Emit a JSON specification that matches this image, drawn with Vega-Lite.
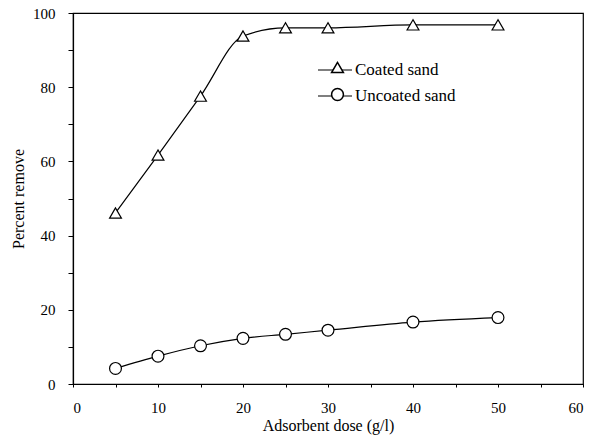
{
  "$schema": "https://vega.github.io/schema/vega-lite/v6.json",
  "width": 510,
  "height": 371,
  "autosize": {"type": "none"},
  "padding": {"left": 73, "top": 13, "right": 9, "bottom": 54},
  "background": "white",
  "config": {
    "view": {"stroke": "black", "strokeWidth": 1.2},
    "font": "Liberation Serif",
    "axis": {
      "grid": false,
      "domainColor": "black",
      "domainWidth": 1.2,
      "tickColor": "black",
      "labelColor": "black",
      "titleColor": "black",
      "labelFont": "Liberation Serif",
      "titleFont": "Liberation Serif",
      "labelFontSize": 15,
      "titleFontSize": 16,
      "titleFontWeight": "normal"
    },
    "legend": {
      "labelFont": "Liberation Serif",
      "labelFontSize": 17,
      "labelColor": "black"
    }
  },
  "data": {
    "values": [
      {"dose": 5, "removal": 46.1, "series": "Coated sand"},
      {"dose": 10, "removal": 61.7, "series": "Coated sand"},
      {"dose": 15, "removal": 77.6, "series": "Coated sand"},
      {"dose": 20, "removal": 93.8, "series": "Coated sand"},
      {"dose": 25, "removal": 96.0, "series": "Coated sand"},
      {"dose": 30, "removal": 96.0, "series": "Coated sand"},
      {"dose": 40, "removal": 96.8, "series": "Coated sand"},
      {"dose": 50, "removal": 96.8, "series": "Coated sand"},
      {"dose": 5, "removal": 4.2, "series": "Uncoated sand"},
      {"dose": 10, "removal": 7.5, "series": "Uncoated sand"},
      {"dose": 15, "removal": 10.3, "series": "Uncoated sand"},
      {"dose": 20, "removal": 12.3, "series": "Uncoated sand"},
      {"dose": 25, "removal": 13.4, "series": "Uncoated sand"},
      {"dose": 30, "removal": 14.5, "series": "Uncoated sand"},
      {"dose": 40, "removal": 16.7, "series": "Uncoated sand"},
      {"dose": 50, "removal": 17.9, "series": "Uncoated sand"}
    ]
  },
  "encoding": {
    "x": {
      "field": "dose",
      "type": "quantitative",
      "scale": {"domain": [0, 60], "nice": false},
      "axis": {
        "title": "Adsorbent dose (g/l)",
        "values": [0, 5, 10, 15, 20, 25, 30, 35, 40, 45, 50, 55, 60],
        "labelExpr": "datum.value % 10 === 0 ? datum.label : ''",
        "tickSize": 3,
        "labelPadding": 13,
        "titlePadding": 2
      }
    },
    "y": {
      "field": "removal",
      "type": "quantitative",
      "scale": {"domain": [0, 100], "nice": false},
      "axis": {
        "title": "Percent remove",
        "values": [0, 10, 20, 30, 40, 50, 60, 70, 80, 90, 100],
        "labelExpr": "datum.value % 20 === 0 ? datum.label : ''",
        "tickSize": 5,
        "labelPadding": 13,
        "titlePadding": 6
      }
    }
  },
  "layer": [
    {
      "mark": {"type": "line", "interpolate": "monotone", "strokeWidth": 1.2},
      "encoding": {
        "color": {
          "field": "series",
          "type": "nominal",
          "scale": {"domain": ["Coated sand", "Uncoated sand"], "range": ["black", "black"]},
          "legend": {
            "title": null,
            "orient": "none",
            "legendX": 244,
            "legendY": 39,
            "padding": 0,
            "symbolType": "stroke",
            "symbolSize": 1156,
            "symbolStrokeWidth": 1.2,
            "labelOffset": 2,
            "rowPadding": 0
          }
        }
      }
    },
    {
      "mark": {"type": "point", "filled": true, "fill": "white", "stroke": "black", "strokeWidth": 1.2, "size": 140, "opacity": 1},
      "encoding": {
        "shape": {
          "field": "series",
          "type": "nominal",
          "scale": {"domain": ["Coated sand", "Uncoated sand"], "range": ["triangle-up", "circle"]},
          "legend": {
            "title": null,
            "orient": "none",
            "legendX": 256,
            "legendY": 46,
            "padding": 0,
            "symbolSize": 140,
            "labelOpacity": 0,
            "labelOffset": 4,
            "rowPadding": 9
          }
        }
      }
    },
    {
      "data": {"values": [{}]},
      "mark": {
        "type": "text",
        "text": ["Initial As (III) concentration = 400  µg/l", "pH = 7.5", "Contact time = 2 h"],
        "align": "left",
        "baseline": "top",
        "lineHeight": 22,
        "font": "Liberation Serif",
        "fontSize": 14,
        "color": "black"
      },
      "encoding": {
        "x": {"datum": 9.1},
        "y": {"datum": 45.2}
      }
    }
  ],
  "resolve": {"scale": {"color": "independent", "shape": "independent"}, "legend": {"color": "independent", "shape": "independent"}}
}
